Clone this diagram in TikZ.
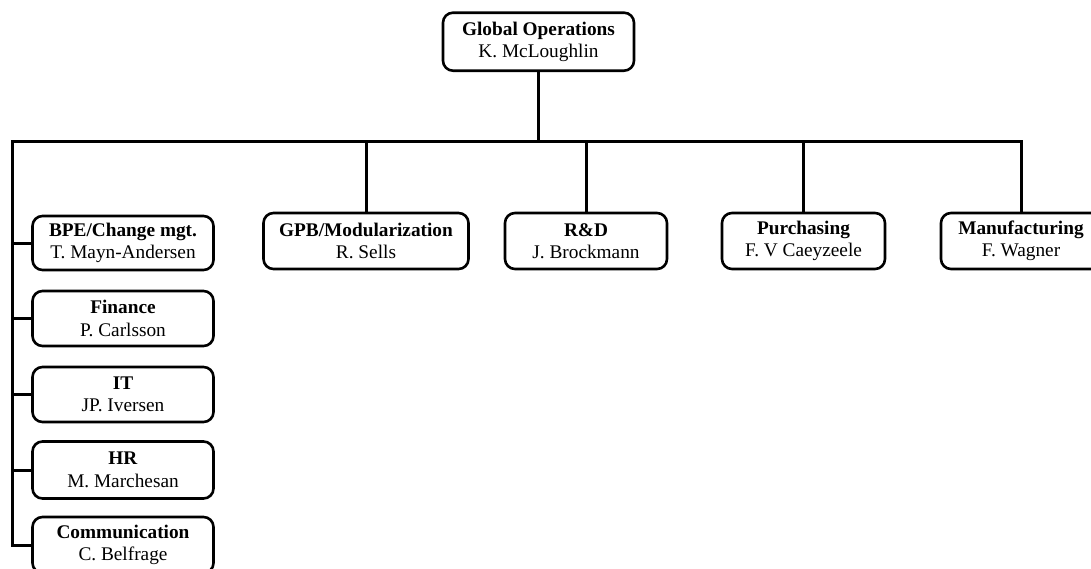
\documentclass[tikz,border=0pt]{standalone}
\usepackage{fontspec}
\setmainfont{Liberation Serif}
\begin{document}
\begin{tikzpicture}[x=1pt,y=-1pt,
  unit/.style={draw=black, line width=2.6pt, rounded corners=10pt, fill=white,
    align=center, inner sep=0pt, minimum height=56pt,
    font=\fontsize{19.3}{22.5}\selectfont},
  link/.style={draw=black, line width=3pt, line join=miter}]
\useasboundingbox (0,0) rectangle (1091,568);
\clip (0,0) rectangle (1091,568);

% head of the organisation
\node[unit, minimum width=191pt, minimum height=58pt] (top) at (538.5,41.7)
  {\textbf{Global Operations}\\K. McLoughlin};

% line departments
\node[unit, minimum width=205pt] (gpb) at (366,241) {\textbf{GPB/Modularization}\\R. Sells};
\node[unit, minimum width=162pt] (rd)  at (586,241) {\textbf{R\&D}\\J. Brockmann};
\node[unit, minimum width=163pt] (pur) at (803.5,241) {\textbf{Purchasing}\\F. V Caeyzeele};
\node[unit, minimum width=160pt] (man) at (1021,241) {\textbf{Manufacturing}\\F. Wagner};

% staff functions
\node[unit, minimum width=181pt, minimum height=54pt] (bpe) at (123,243) {\textbf{BPE/Change mgt.}\\T. Mayn-Andersen};
\node[unit, minimum width=181pt, minimum height=55pt] (fin) at (123,318.5) {\textbf{Finance}\\P. Carlsson};
\node[unit, minimum width=181pt, minimum height=55pt] (it)  at (123,394.5) {\textbf{IT}\\JP. Iversen};
\node[unit, minimum width=181pt, minimum height=57pt] (hr)  at (123,470) {\textbf{HR}\\M. Marchesan};
\node[unit, minimum width=181pt, minimum height=56pt] (com) at (123,545) {\textbf{Communication}\\C. Belfrage};

% bus line
\coordinate (busL) at (12.5,141);

\draw[link] (top.south) -- (top.south |- busL);
\draw[link] (com.west) -| (busL) -| (man.north);
\foreach \n in {gpb,rd,pur}
  \draw[link] (\n.north) -- (\n.north |- busL);
\foreach \n in {bpe,fin,it,hr}
  \draw[link] (\n.west) -- (\n.west -| busL);
\end{tikzpicture}
\end{document}
